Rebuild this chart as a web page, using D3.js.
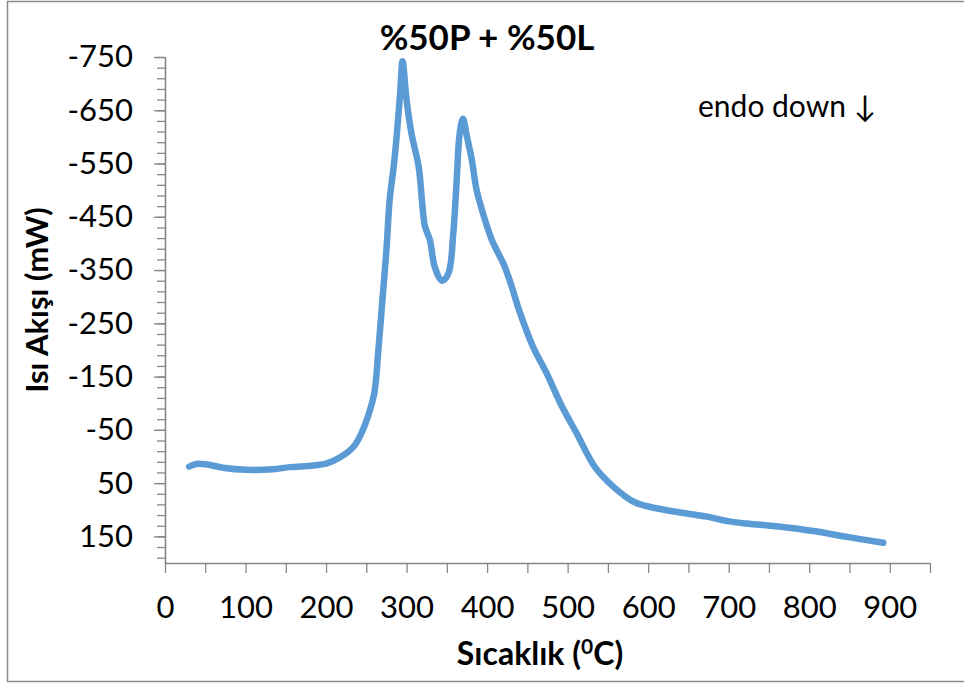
<!DOCTYPE html>
<html>
<head>
<meta charset="utf-8">
<script src="https://cdn.jsdelivr.net/npm/d3@7"></script>
<style>
  html, body { margin: 0; padding: 0; background: #fff; }
  svg { display: block; }
  text { font-family: Lato, "Open Sans", sans-serif; fill: #000; }
</style>
</head>
<body>
<svg id="chart" width="964" height="686"></svg>
<script>
// ---- data ----
const temperature = [30, 39, 52, 72, 101, 134, 155, 184, 201, 217, 234, 244, 252, 260, 265, 270, 275, 279, 284, 288, 292, 295, 300, 306, 315, 319, 321, 323, 329, 335, 344, 352, 358, 362, 366, 370, 375, 381, 387, 395, 406, 414, 420, 428, 441, 457, 474, 491, 511, 534, 557, 582, 598, 623, 648, 673, 697, 722, 764, 805, 847, 892];
const heatFlow = [19, 14, 15, 21, 25, 24, 20, 17, 13, 2, -18, -44, -75, -120, -200, -294, -388, -482, -544, -607, -682, -742, -669, -607, -544, -482, -450, -431, -406, -356, -330, -344, -419, -513, -607, -634, -600, -557, -500, -456, -406, -381, -363, -331, -269, -206, -156, -100, -44, 20, 57, 85, 93, 101, 107, 113, 121, 126, 132, 140, 151, 162];
const yTickLabels = [-750, -650, -550, -450, -350, -250, -150, -50, 50, 150];
const yMinorTicks = d3.range(-750, 201, 20);
const xTickLabels = [0, 100, 200, 300, 400, 500, 600, 700, 800, 900];
const xTicks = d3.range(0, 951, 50);
const title = "%50P + %50L";
const note = "endo down \u2193";

// ---- layout ----
const svg = d3.select("#chart");
const x = d3.scaleLinear().domain([0, 950]).range([165, 930]);
const y = d3.scaleLinear().domain([-750, 200]).range([57, 563]);
const axisColor = "#868686";

// outer frame
svg.append("rect")
  .attr("x", 7.5).attr("y", 1.5)
  .attr("width", 960).attr("height", 680)
  .attr("fill", "none").attr("stroke", "#8c8c8c").attr("stroke-width", 1.5);

// y axis minor ticks
const yMinor = svg.append("g")
  .attr("transform", `translate(${x(0)},0)`)
  .call(d3.axisLeft(y).tickValues(yMinorTicks).tickSize(8).tickSizeOuter(0).tickFormat(""));
// y axis major ticks + labels
const yMajor = svg.append("g")
  .attr("transform", `translate(${x(0)},0)`)
  .call(d3.axisLeft(y).tickValues(yTickLabels).tickSize(11).tickPadding(21).tickSizeOuter(0).tickFormat(d => String(d)));
[yMinor, yMajor].forEach(g => {
  g.selectAll("path, line").attr("stroke", axisColor).attr("stroke-width", 1.3);
});
yMajor.selectAll("text").style("font-size", "31px").style("font-family", "Lato, sans-serif").attr("fill", "#000");

// x axis
const xAxis = svg.append("g")
  .attr("transform", `translate(0,${y(200)})`)
  .call(d3.axisBottom(x).tickValues(xTicks).tickSize(10).tickPadding(23).tickSizeOuter(0)
    .tickFormat(d => xTickLabels.includes(d) ? String(d) : ""));
xAxis.selectAll("path, line").attr("stroke", axisColor).attr("stroke-width", 1.3);
xAxis.selectAll("text").style("font-size", "31px").style("font-family", "Lato, sans-serif").attr("fill", "#000");

// data line
const pts = temperature.map((t, i) => [t, heatFlow[i]]);
svg.append("path")
  .datum(pts)
  .attr("fill", "none")
  .attr("stroke", "#5B9BD5")
  .attr("stroke-width", 6.5)
  .attr("stroke-linecap", "round")
  .attr("stroke-linejoin", "round")
  .attr("d", d3.line().x(d => x(d[0])).y(d => y(d[1])).curve(d3.curveCatmullRom.alpha(0.5)));

// title
svg.append("text")
  .attr("x", 487).attr("y", 50)
  .attr("text-anchor", "middle")
  .style("font-size", "35px").style("font-weight", "bold")
  .text(title);

// annotation
svg.append("text")
  .attr("x", 698).attr("y", 117)
  .style("font-size", "30px")
  .text(note);

// y axis title
svg.append("text")
  .attr("transform", "translate(48,300) rotate(-90)")
  .attr("text-anchor", "middle")
  .style("font-size", "31px").style("font-weight", "bold")
  .text("Isı Akışı (mW)");

// x axis title
const xt = svg.append("text")
  .attr("x", 540).attr("y", 665)
  .attr("text-anchor", "middle")
  .style("font-size", "32px").style("font-weight", "bold");
xt.append("tspan").text("Sıcaklık (");
xt.append("tspan").attr("dy", -11).style("font-size", "21px").text("0");
xt.append("tspan").attr("dy", 11).text("C)");
</script>
</body>
</html>
